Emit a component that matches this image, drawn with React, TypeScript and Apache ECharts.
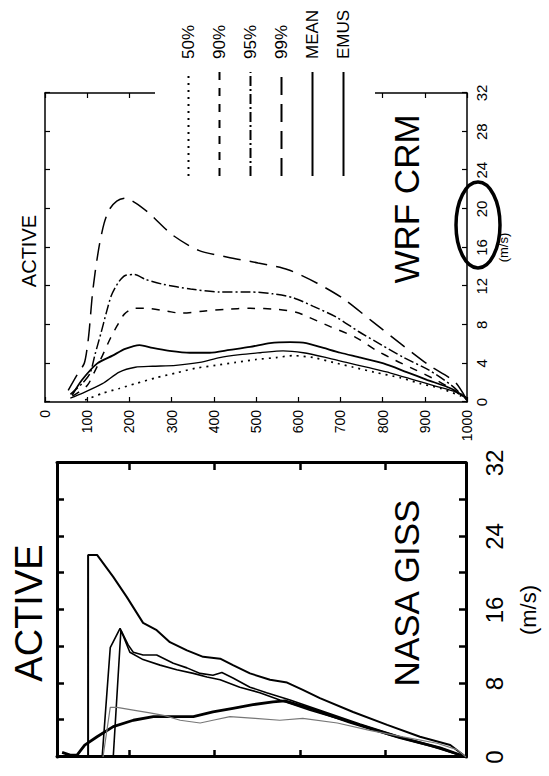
import React, { useEffect, useRef } from "react";
import * as echarts from "echarts";

const FONT = "'Liberation Sans', Arial, Helvetica, sans-serif";

// ---------- NASA GISS (left panel of the original figure) ----------
// pressure (hPa) and wind speed (m/s) for each profile
const gissAP = [103, 103, 124, 162, 194, 232, 264, 295, 335, 373, 413, 443, 483, 530, 570, 607, 647, 725, 805, 882, 953, 990];
const gissAW = [0, 22.0, 22.0, 19.6, 17.4, 14.6, 13.8, 12.5, 11.6, 10.9, 10.7, 10.0, 9.1, 8.4, 8.1, 7.3, 6.4, 4.9, 3.5, 2.2, 1.3, 0];

const gissCP = [136, 155, 178, 197, 209, 232, 264, 303, 335, 366, 396, 417, 443, 483, 522, 577, 647, 741, 835, 929, 990];
const gissCW = [0, 11.9, 14.0, 12.2, 11.4, 11.1, 11.1, 10.2, 9.7, 9.1, 8.9, 9.2, 8.6, 7.6, 7.0, 6.2, 5.1, 3.6, 2.2, 1.0, 0];

const gissDP = [162, 180, 201, 232, 272, 311, 350, 382, 413, 459, 506, 553, 624, 717, 811, 906, 990];
const gissDW = [0, 13.8, 11.4, 10.6, 10.0, 9.5, 9.1, 8.7, 8.4, 7.6, 7.0, 6.2, 5.1, 3.8, 2.4, 1.2, 0];

const gissBP = [42, 61, 77, 95, 124, 162, 209, 256, 303, 350, 396, 443, 490, 537, 565, 624, 717, 835, 929, 990];
const gissBW = [0.5, 0.2, 0.2, 1.3, 2.2, 3.3, 4.0, 4.4, 4.4, 4.4, 4.9, 5.3, 5.7, 6.0, 6.1, 5.3, 3.8, 2.1, 1.0, 0];

const gissEP = [138, 155, 171, 209, 248, 283, 319, 366, 396, 436, 495, 553, 607, 688, 764, 842, 922, 969, 990];
const gissEW = [0, 5.4, 5.4, 5.1, 4.8, 4.5, 4.0, 3.7, 4.0, 4.4, 4.2, 4.0, 4.2, 3.7, 2.9, 2.2, 1.5, 0.8, 0];

const gissPressureTicks = [200, 400, 600, 800];

// ---------- WRF CRM (right panel of the original figure) ----------
const wrfNames = ["50%", "90%", "95%", "99%", "MEAN", "EMUS"];

const wrf50P = [95, 136, 176, 214, 262, 310, 357, 405, 452, 500, 548, 588, 636, 683, 731, 779, 843, 890, 938, 993];
const wrf50W = [0.2, 0.9, 1.4, 1.9, 2.5, 3.0, 3.5, 3.8, 4.1, 4.4, 4.6, 4.8, 4.6, 4.1, 3.6, 3.1, 2.5, 1.9, 1.4, 0.5];

const wrf90P = [65, 100, 117, 136, 155, 171, 188, 212, 243, 290, 321, 374, 426, 486, 552, 595, 624, 676, 736, 783, 831, 879, 926, 969, 1000];
const wrf90W = [0.6, 1.7, 3.1, 4.8, 6.6, 7.9, 9.1, 9.7, 9.7, 9.4, 9.2, 9.4, 9.6, 9.7, 9.6, 9.3, 8.8, 7.8, 6.7, 5.4, 4.3, 3.3, 2.3, 1.2, 0.2];

const wrf95P = [60, 90, 107, 119, 133, 145, 157, 174, 190, 212, 238, 279, 345, 414, 486, 540, 588, 636, 690, 743, 798, 850, 910, 964, 1000];
const wrf95W = [0.8, 2.0, 3.0, 5.0, 7.2, 9.2, 11.0, 12.4, 13.1, 13.2, 12.7, 12.2, 11.7, 11.4, 11.4, 11.2, 10.8, 9.9, 8.8, 7.3, 5.9, 4.6, 3.3, 1.7, 0.2];

const wrf99P = [55, 76, 93, 100, 105, 112, 119, 129, 140, 152, 170, 190, 215, 248, 302, 364, 433, 505, 576, 645, 707, 774, 838, 910, 971, 1000];
const wrf99W = [1.2, 2.8, 4.0, 5.6, 7.5, 11.0, 13.5, 16.3, 18.5, 19.9, 20.8, 21.1, 20.6, 19.5, 17.3, 15.7, 15.0, 14.4, 13.7, 12.3, 10.7, 8.4, 6.2, 3.8, 2.1, 0.2];

const wrfMeanP = [64, 88, 124, 160, 190, 224, 255, 295, 343, 390, 438, 486, 533, 581, 619, 660, 700, 748, 802, 857, 905, 962, 1000];
const wrfMeanW = [0.7, 2.3, 4.0, 4.8, 5.5, 5.9, 5.6, 5.3, 5.1, 5.1, 5.4, 5.7, 6.1, 6.2, 6.1, 5.6, 5.1, 4.6, 4.0, 3.1, 2.3, 1.4, 0.4];

const wrfEmusP = [60, 88, 136, 176, 214, 255, 310, 367, 414, 462, 510, 564, 612, 667, 714, 762, 819, 874, 921, 976, 1000];
const wrfEmusW = [0.4, 0.9, 1.9, 3.1, 3.6, 3.7, 3.8, 4.1, 4.6, 4.9, 5.1, 5.3, 5.1, 4.6, 4.1, 3.6, 3.0, 2.3, 1.7, 1.0, 0.3];

const pairs = (w: number[], p: number[]) => w.map((v, i) => [v, p[i]]);

const txt = (size: number) => ({ fontFamily: FONT, fontSize: size, color: "#000", fontWeight: "normal" as const });

function buildOption() {
  const gissLine = { color: "#000", width: 3 };
  const gissTick = { show: true, inside: true, length: 7, lineStyle: { color: "#000", width: 2.5 } };
  const wrfLine = { color: "#000", width: 1.5 };
  const wrfTick = { show: true, inside: true, length: 5, lineStyle: { color: "#000", width: 1.2 } };

  const title = (text: string, x: number, y: number, size: number) => ({
    text, left: x, top: y, textAlign: "center", textVerticalAlign: "middle", padding: 0,
    textStyle: txt(size),
  });

  const gissSeries = (name: string, w: number[], p: number[], width: number, color = "#000") => ({
    name, type: "line", xAxisIndex: 0, yAxisIndex: 0, data: pairs(w, p),
    symbol: "none", showSymbol: false, silent: true,
    lineStyle: { color, width, type: "solid" },
  });

  const wrfSeries = (name: string, w: number[], p: number[], width: number, type: any) => ({
    name, type: "line", xAxisIndex: 2, yAxisIndex: 2, data: pairs(w, p),
    symbol: "none", showSymbol: false, silent: true, smooth: 0.25,
    itemStyle: { color: "#000" },
    lineStyle: { color: "#000", width, type },
  });

  return {
    animation: false,
    backgroundColor: "#fff",
    title: [
      title("ACTIVE", 163, 29, 38),
      title("NASA GISS", 183, 406, 35),
      title("ACTIVE", 525, 29, 20),
      title("WRF CRM", 577, 406, 35),
    ],
    legend: {
      data: wrfNames,
      orient: "vertical",
      left: 589,
      top: 155,
      padding: [25, 10, 23, 10],
      itemGap: 14,
      itemWidth: 104,
      itemHeight: 20,
      backgroundColor: "#fff",
      selectedMode: false,
      itemStyle: { opacity: 0 },
      textStyle: { ...txt(17), padding: [0, 0, 0, 8] },
    },
    grid: [
      { left: 19, top: 57, width: 294, height: 409 },
      { left: 374, top: 45, width: 309, height: 422 },
    ],
    xAxis: [
      {
        gridIndex: 0, type: "value", min: 0, max: 32, interval: 4, position: "bottom",
        name: "(m/s)", nameLocation: "middle", nameGap: 51, nameTextStyle: txt(22),
        axisLine: { show: true, onZero: false, lineStyle: gissLine },
        axisTick: gissTick,
        axisLabel: { formatter: (v: number) => (v % 8 === 0 ? String(v) : ""), margin: 16, ...txt(24) },
        splitLine: { show: false },
      },
      {
        gridIndex: 0, type: "value", min: 0, max: 32, interval: 4, position: "top",
        axisLine: { show: true, onZero: false, lineStyle: gissLine },
        axisTick: gissTick, axisLabel: { show: false }, splitLine: { show: false },
      },
      {
        gridIndex: 1, type: "value", min: 0, max: 32, interval: 4, position: "bottom",
        name: "(m/s)", nameLocation: "middle", nameGap: 30, nameTextStyle: txt(13),
        axisLine: { show: true, onZero: false, lineStyle: wrfLine },
        axisTick: wrfTick,
        axisLabel: { margin: 7, ...txt(15) },
        splitLine: { show: false },
      },
      {
        gridIndex: 1, type: "value", min: 0, max: 32, interval: 4, position: "top",
        axisLine: { show: true, onZero: false, lineStyle: wrfLine },
        axisTick: wrfTick, axisLabel: { show: false }, splitLine: { show: false },
      },
    ],
    yAxis: [
      {
        gridIndex: 0, type: "value", inverse: true, min: 30, max: 990, position: "left",
        axisLine: { show: true, onZero: false, lineStyle: gissLine },
        axisTick: { ...gissTick, customValues: gissPressureTicks },
        axisLabel: { show: false }, splitLine: { show: false },
      },
      {
        gridIndex: 0, type: "value", inverse: true, min: 30, max: 990, position: "right",
        axisLine: { show: true, onZero: false, lineStyle: gissLine },
        axisTick: { ...gissTick, customValues: gissPressureTicks },
        axisLabel: { show: false }, splitLine: { show: false },
      },
      {
        gridIndex: 1, type: "value", inverse: true, min: 0, max: 1000, interval: 100, position: "left",
        axisLine: { show: true, onZero: false, lineStyle: wrfLine },
        axisTick: wrfTick,
        axisLabel: { margin: 8, formatter: (v: number) => String(v), ...txt(14) },
        splitLine: { show: false },
      },
      {
        gridIndex: 1, type: "value", inverse: true, min: 0, max: 1000, interval: 100, position: "right",
        axisLine: { show: true, onZero: false, lineStyle: wrfLine },
        axisTick: wrfTick, axisLabel: { show: false }, splitLine: { show: false },
      },
    ],
    graphic: [
      {
        type: "ellipse", z: 50, silent: true,
        shape: { cx: 551, cy: 478, rx: 43, ry: 22 },
        style: { fill: "none", stroke: "#000", lineWidth: 3.5 },
      },
    ],
    series: [
      gissSeries("GISS A", gissAW, gissAP, 2),
      gissSeries("GISS C", gissCW, gissCP, 1.6),
      gissSeries("GISS D", gissDW, gissDP, 1.6),
      gissSeries("GISS B", gissBW, gissBP, 2.8),
      gissSeries("GISS E", gissEW, gissEP, 1.2, "#777"),
      wrfSeries("50%", wrf50W, wrf50P, 1.7, [2, 5]),
      wrfSeries("90%", wrf90W, wrf90P, 1.5, [8, 8]),
      wrfSeries("95%", wrf95W, wrf95P, 1.5, [10, 3, 2, 3]),
      wrfSeries("99%", wrf99W, wrf99P, 1.5, [18, 9]),
      wrfSeries("MEAN", wrfMeanW, wrfMeanP, 1.8, "solid"),
      wrfSeries("EMUS", wrfEmusW, wrfEmusP, 1.3, "solid"),
    ],
  };
}

export default function App() {
  const ref = useRef<HTMLDivElement>(null);
  useEffect(() => {
    if (!ref.current) return;
    const chart = echarts.init(ref.current, null, { renderer: "svg", width: 776, height: 549 });
    chart.setOption(buildOption() as any);
    return () => chart.dispose();
  }, []);
  return (
    <div style={{ position: "fixed", left: 0, top: 0, width: 549, height: 776, overflow: "hidden", background: "#fff" }}>
      <div
        ref={ref}
        style={{
          position: "absolute", left: 0, top: 0, width: 776, height: 549,
          transformOrigin: "0 0", transform: "translate(0px, 776px) rotate(-90deg)",
        }}
      />
    </div>
  );
}
